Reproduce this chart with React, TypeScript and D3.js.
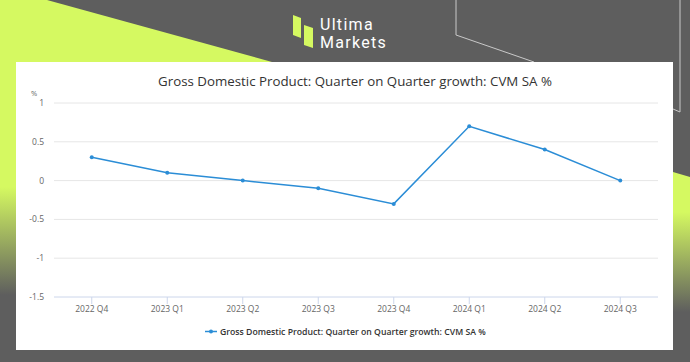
import React, { useEffect, useRef } from 'react'
import * as d3 from 'd3'

const quarters = ['2022 Q4', '2023 Q1', '2023 Q2', '2023 Q3', '2023 Q4', '2024 Q1', '2024 Q2', '2024 Q3']
const growth = [0.3, 0.1, 0.0, -0.1, -0.3, 0.7, 0.4, 0.0]
const yTicks = [1, 0.5, 0, -0.5, -1, -1.5]
const seriesName = 'Gross Domestic Product: Quarter on Quarter growth: CVM SA %'

const W = 690
const H = 362
const LIME = '#d5f961'
const GREY = '#5e5e5e'
const LINE = '#2b8dd6'

export default function App() {
  const svgRef = useRef<SVGSVGElement>(null)

  useEffect(() => {
    document.body.style.margin = '0'
    if (!svgRef.current) return
    const svg = d3.select(svgRef.current)
    svg.selectAll('*').remove()

    // background
    const defs = svg.append('defs')
    const gl = defs.append('linearGradient').attr('id', 'gl')
      .attr('gradientUnits', 'userSpaceOnUse').attr('x1', 0).attr('x2', 0).attr('y1', 0).attr('y2', H)
    gl.append('stop').attr('offset', 187 / H).attr('stop-color', LIME)
    gl.append('stop').attr('offset', 295 / H).attr('stop-color', GREY)
    const gr = defs.append('linearGradient').attr('id', 'gr')
      .attr('gradientUnits', 'userSpaceOnUse').attr('x1', 0).attr('x2', 0).attr('y1', 0).attr('y2', H)
    gr.append('stop').attr('offset', 212 / H).attr('stop-color', LIME)
    gr.append('stop').attr('offset', 312 / H).attr('stop-color', GREY)

    svg.append('rect').attr('width', W).attr('height', H).attr('fill', GREY)
    svg.append('polygon').attr('points', '0,0 47,0 272,62 272,362 0,362').attr('fill', 'url(#gl)')
    svg.append('polygon').attr('points', '673,172 690,177 690,362 673,362').attr('fill', 'url(#gr)')
    svg.append('polyline').attr('points', '456,0 456,35 534,62')
      .attr('fill', 'none').attr('stroke', '#c9c9c9').attr('stroke-width', 1)
    svg.append('polyline').attr('points', '680,0 680,112 673,109')
      .attr('fill', 'none').attr('stroke', '#c9c9c9').attr('stroke-width', 1)

    // logo
    const logo = svg.append('g')
    logo.append('polygon').attr('points', '293,15 301,18 301,38 293,35').attr('fill', LIME)
    logo.append('polygon').attr('points', '304,25 313,28 313,48 304,45').attr('fill', LIME)
    logo.append('text').attr('x', 320).attr('y', 29.5).attr('fill', '#fff')
      .style('font-family', 'Roboto, sans-serif').style('font-size', '16px')
      .style('letter-spacing', '1.3px').text('Ultima')
    logo.append('text').attr('x', 320).attr('y', 48).attr('fill', '#fff')
      .style('font-family', 'Roboto, sans-serif').style('font-size', '16px')
      .style('letter-spacing', '1.3px').text('Markets')

    // panel
    svg.append('rect').attr('x', 16).attr('y', 62).attr('width', 657).attr('height', 288).attr('fill', '#fff')

    const x = d3.scalePoint<string>().domain(quarters).range([54, 658]).padding(0.5)
    const y = d3.scaleLinear().domain([-1.5, 1]).range([297, 103])

    const font = '"Open Sans", sans-serif'

    svg.append('text').attr('x', 355).attr('y', 86).attr('text-anchor', 'middle')
      .attr('fill', '#333').style('font-family', font).style('font-size', '13.3px').text(seriesName)

    // grid
    svg.append('g').selectAll('line').data(yTicks.filter(d => d !== -1.5)).join('line')
      .attr('x1', 54).attr('x2', 658).attr('y1', d => y(d)).attr('y2', d => y(d))
      .attr('stroke', '#e6e6e6').attr('stroke-width', 1)

    svg.append('line').attr('x1', 54).attr('x2', 658).attr('y1', y(-1.5)).attr('y2', y(-1.5))
      .attr('stroke', '#ccd6eb').attr('stroke-width', 1)

    svg.append('g').selectAll('text').data(yTicks).join('text')
      .attr('x', 44).attr('y', d => y(d) + 3).attr('text-anchor', 'end')
      .attr('fill', '#666').style('font-family', font).style('font-size', '8.5px')
      .text(d => String(d))

    svg.append('text').attr('x', 31).attr('y', 96).attr('fill', '#666')
      .style('font-family', font).style('font-size', '7.5px').text('%')

    // x axis
    const xa = svg.append('g')
    xa.selectAll('line').data(quarters).join('line')
      .attr('x1', d => x(d)!).attr('x2', d => x(d)!).attr('y1', y(-1.5)).attr('y2', y(-1.5) + 7)
      .attr('stroke', '#ccd6eb')
    xa.selectAll('text').data(quarters).join('text')
      .attr('x', d => x(d)!).attr('y', 312).attr('text-anchor', 'middle')
      .attr('fill', '#666').style('font-family', font).style('font-size', '8.5px').text(d => d)

    // series
    const line = d3.line<number>().x((_, i) => x(quarters[i])!).y(d => y(d))
    svg.append('path').datum(growth).attr('d', line)
      .attr('fill', 'none').attr('stroke', LINE).attr('stroke-width', 1.5)
    svg.append('g').selectAll('circle').data(growth).join('circle')
      .attr('cx', (_, i) => x(quarters[i])!).attr('cy', d => y(d)).attr('r', 2).attr('fill', LINE)

    // legend
    const lg = svg.append('g')
    lg.append('line').attr('x1', 205).attr('x2', 217).attr('y1', 331.5).attr('y2', 331.5)
      .attr('stroke', LINE).attr('stroke-width', 1.5)
    lg.append('circle').attr('cx', 211).attr('cy', 331.5).attr('r', 2).attr('fill', LINE)
    lg.append('text').attr('x', 220).attr('y', 334.5).attr('fill', '#333')
      .style('font-family', font).style('font-size', '8.7px').style('font-weight', 600).text(seriesName)
  }, [])

  return (
    <div style={{ position: 'absolute', left: 0, top: 0 }}>
      <svg ref={svgRef} width={W} height={H} style={{ display: 'block' }} />
    </div>
  )
}
